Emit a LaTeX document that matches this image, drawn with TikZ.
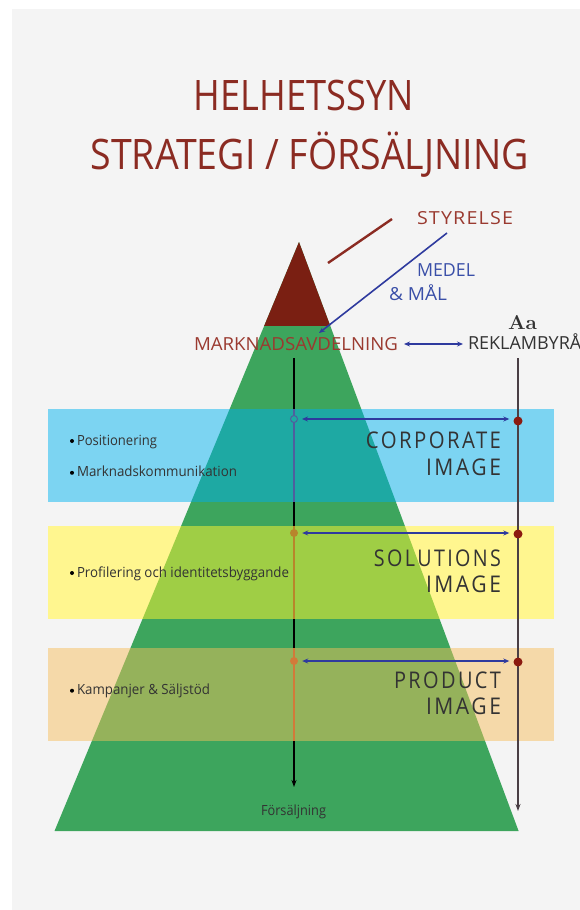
\documentclass[tikz,border=0pt]{standalone}
\usepackage{fontspec}
\setmainfont{Open Sans}
\newfontfamily\spacedfont[LetterSpace=12]{Open Sans}
\newfontfamily\widefont[LetterSpace=6]{Open Sans}
\newfontfamily\serifbold{Latin Modern Roman}
\usetikzlibrary{arrows.meta}
\newcommand\fitbox[2]{\resizebox{#1}{\height}{#2}}
\definecolor{bggray}{HTML}{F4F4F4}
\definecolor{pgreen}{HTML}{3DA55D}
\definecolor{pred}{HTML}{7A1F12}
\definecolor{bandblue}{HTML}{7CD4F2}
\definecolor{ovblue}{HTML}{1EA9A3}
\definecolor{bandyellow}{HTML}{FFF68F}
\definecolor{ovyellow}{HTML}{9FCE45}
\definecolor{bandorange}{HTML}{F5D9A9}
\definecolor{ovorange}{HTML}{95B25B}
\definecolor{titlered}{HTML}{8B2B22}
\definecolor{textred}{HTML}{9A3A30}
\definecolor{textblue}{HTML}{3A4FA8}
\definecolor{arrowblue}{HTML}{2E3A9E}
\definecolor{textdark}{HTML}{333333}
\definecolor{dotred}{HTML}{8B1A10}
\definecolor{segblue}{HTML}{4F5F9E}
\definecolor{segbrown}{HTML}{B8862B}
\definecolor{segorange}{HTML}{D27A3A}
\definecolor{rightline}{HTML}{4A3F45}
\tikzset{
  lbl/.style={inner sep=0pt, outer sep=0pt},
  titletext/.style={lbl, text=titlered, font=\fontsize{42}{42}\selectfont},
  redtext/.style={lbl, text=textred, font=\fontsize{18}{18}\selectfont},
  bluetext/.style={lbl, text=textblue, font=\fontsize{18}{18}\selectfont},
  darktext/.style={lbl, text=textdark, font=\fontsize{18}{18}\selectfont},
  imagetext/.style={lbl, text=textdark, font=\spacedfont\fontsize{23}{23}\selectfont},
  smalltext/.style={lbl, text=textdark, font=\fontsize{14}{14}\selectfont},
  bulletdot/.style={circle, fill=black, inner sep=0pt, minimum size=4pt},
  bandarrow/.style={draw=arrowblue, line width=1.4pt, {Stealth[length=6pt,width=5pt]}-{Stealth[length=6pt,width=5pt]}},
  rightdot/.style={circle, fill=dotred, inner sep=0pt, minimum size=9pt},
}
\begin{document}
\begin{tikzpicture}[x=1pt,y=-1pt]
\useasboundingbox (0,0) rectangle (580,910);
\fill[white] (0,0) rectangle (580,910);
\fill[bggray] (12,9) rectangle (580,910);

% pyramid
\coordinate (apex) at (299,242);
\coordinate (bl) at (54.5,831);
\coordinate (br) at (518.6,831);
\fill[pgreen] (apex) -- (bl) -- (br) -- cycle;
\begin{scope}
  \clip (0,0) rectangle (580,325);
  \fill[pred] (apex) -- (bl) -- (br) -- cycle;
\end{scope}

% bands
\fill[bandblue] (47.6,409) rectangle (553.8,502);
\fill[bandyellow] (47.6,525.5) rectangle (553.8,618.5);
\fill[bandorange] (47.6,648) rectangle (553.8,741);
\begin{scope}
  \clip (apex) -- (bl) -- (br) -- cycle;
  \fill[ovblue] (47.6,409) rectangle (553.8,502);
  \fill[ovyellow] (47.6,525.5) rectangle (553.8,618.5);
  \fill[ovorange] (47.6,648) rectangle (553.8,741);
\end{scope}

% title
\node[titletext, anchor=base] (t1) at (304,110) {\fitbox{220pt}{HELHETSSYN}};
\node[titletext, anchor=base west] (t2) at (90.6,169.4) {\fitbox{438pt}{STRATEGI / FÖRSÄLJNING}};

% top labels
\node[redtext, anchor=base west] (styrelse) at (417,224) {\fitbox{96pt}{\widefont STYRELSE}};
\node[bluetext, anchor=base west] (medel) at (417,276) {\fitbox{58pt}{MEDEL}};
\node[bluetext, anchor=base west] (mal) at (389,300) {\fitbox{58pt}{\& MÅL}};
\node[redtext, anchor=base west] (mark) at (194,350) {\fitbox{204pt}{MARKNADSAVDELNING}};
\node[darktext, anchor=base west] (rekl) at (468,349) {REKLAMBYRÅ};
\node[lbl, text=textdark, font=\serifbold\bfseries\fontsize{20}{20}\selectfont, anchor=base] (aa) at (522.5,329) {\fitbox{29pt}{Aa}};

% connectors top
\coordinate (rl1) at (328,263);
\coordinate (rl2) at (392,219);
\draw[titlered, line width=2.4pt] (rl1) -- (rl2);
\coordinate (bl1) at (447,233);
\coordinate (bl2) at (319,333);
\draw[arrowblue, line width=1.6pt, -{Stealth[length=6pt,width=5pt]}] (bl1) -- (bl2);
\draw[bandarrow] (mark.east |- 0,344) ++(6,0) coordinate (da1) -- (463,344) coordinate (da2);

% vertical lines
\coordinate (c0) at (294,358);
\coordinate (c1) at (294,787);
\draw[black, line width=1.5pt, -{Stealth[length=7pt,width=5pt]}] (c0) -- (c1);
\coordinate (r0) at (518,358);
\coordinate (r1) at (518,811);
\draw[rightline, line width=1.8pt, -{Stealth[length=7pt,width=5pt]}] (r0) -- (r1);

% coloured segments of central line
\draw[segblue, line width=1.6pt] (294,409) -- (294,502);
\draw[segbrown, line width=1.6pt] (294,525.5) -- (294,618.5);
\draw[segorange, line width=1.6pt] (294,648) -- (294,741);

% dots
\node[circle, draw=segblue, fill=ovblue, line width=1pt, inner sep=0pt, minimum size=7pt] (d1) at (294,419) {};
\node[circle, fill=segbrown, inner sep=0pt, minimum size=8pt] (d2) at (294,533) {};
\node[circle, fill=segorange, inner sep=0pt, minimum size=8pt] (d3) at (294,661) {};
\node[rightdot] (e1) at (518,421) {};
\node[rightdot] (e2) at (518,534) {};
\node[rightdot] (e3) at (518,662) {};

% band arrows
\draw[bandarrow] ([xshift=4pt]d1.east) -- ([xshift=-4pt]e1.west |- d1);
\draw[bandarrow] ([xshift=4pt]d2.east) -- ([xshift=-4pt]e2.west |- d2);
\draw[bandarrow] ([xshift=4pt]d3.east) -- ([xshift=-4pt]e3.west |- d3);

% image labels
\node[imagetext, anchor=base east] (corp) at (501,448.5) {\fitbox{135pt}{CORPORATE}};
\node[imagetext, anchor=base east] (img1) at (501,475) {\fitbox{75pt}{IMAGE}};
\node[imagetext, anchor=base east] (sol) at (501,566) {\fitbox{127pt}{SOLUTIONS}};
\node[imagetext, anchor=base east] (img2) at (501,592.6) {\fitbox{75pt}{IMAGE}};
\node[imagetext, anchor=base east] (prod) at (501,688) {\fitbox{107pt}{PRODUCT}};
\node[imagetext, anchor=base east] (img3) at (501,714.7) {\fitbox{75pt}{IMAGE}};

% bullet texts
\node[smalltext, anchor=base west] (b1) at (77,445) {\fitbox{80pt}{Positionering}};
\node[bulletdot] (bd1) at (72,441) {};
\node[smalltext, anchor=base west] (b2) at (77,476.8) {\fitbox{160pt}{Marknadskommunikation}};
\node[bulletdot] (bd2) at (72,472.8) {};
\node[smalltext, anchor=base west] (b3) at (77,577) {\fitbox{212pt}{Profilering och identitetsbyggande}};
\node[bulletdot] (bd3) at (72,573) {};
\node[smalltext, anchor=base west] (b4) at (77,694.7) {\fitbox{133pt}{Kampanjer \& Säljstöd}};
\node[bulletdot] (bd4) at (72,690.7) {};

% bottom label
\node[smalltext, anchor=base] (fors) at (293.5,815) {\fitbox{65pt}{Försäljning}};
\end{tikzpicture}
\end{document}
